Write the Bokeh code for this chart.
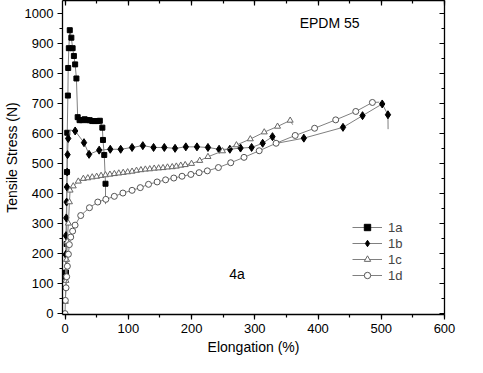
from bokeh.plotting import figure
from bokeh.models import (LinearAxis, Range1d, Legend, LegendItem, Label,
                          SingleIntervalTicker, CustomJSTickFormatter)
from bokeh.embed import file_html
from bokeh.resources import INLINE

# ---- data ----
a_x = [1.5, 2.5, 3, 3.5, 4.5, 5, 6, 7.5, 10, 12, 14, 16, 18, 20, 23, 27, 31, 35, 39, 43, 47, 51, 55, 59, 60, 62, 64, 64]
a_y = [137, 232, 472, 603, 727, 819, 885, 945, 920, 885, 859, 831, 784, 655, 645, 645, 648, 645, 645, 642, 642, 642, 643, 620, 579, 529, 433, 365]
a_m = [1] * 27 + [0]

b_x = [0.5, 1, 1.5, 2, 2.5, 3, 3.5, 4, 5, 8, 16, 30, 38, 54, 71.5, 88, 106, 123, 140, 157, 174, 191, 208.6, 226,
       243.6, 260.6, 277.5, 295, 312.5, 328, 335, 377.6, 439.5, 470.4, 501.5, 510.6, 510.8]
b_y = [120, 197, 260, 319, 372, 422, 472, 530, 584, 612, 609, 570, 531, 545, 548, 548, 554, 560, 554, 554, 551, 556, 556, 554,
       548, 548, 552, 554, 568, 590, 568, 585, 621, 660, 699, 663, 615]
b_m = [1] * 9 + [0] + [1] * 20 + [0] + [1] * 5 + [0]

c_x = [0.5, 1.5, 2.5, 3.5, 5.3, 7, 8, 13, 21, 29, 36, 43, 50, 57, 64, 71, 78, 85, 92, 99, 106, 113, 120, 127, 134,
       141, 148, 155, 162, 169.5, 176, 183, 190, 200, 213, 226, 249, 271, 293, 315, 336, 356, 360]
c_y = [40, 110, 180, 240, 301, 372, 411, 425, 441, 450, 452, 455, 457, 460, 462, 464, 466, 468, 470, 472, 474, 477, 479, 481, 482,
       484, 485, 486, 488, 489, 491, 494, 496, 500, 510, 523, 542, 562, 582, 605, 624, 644, 630]
c_m = [1] * 42 + [0]

d_x = [0, 0.5, 1.6, 2.6, 3.7, 5.3, 6.8, 9, 12, 15.9, 24.8, 38.6, 51.8, 64.5, 77.9, 91.5, 106, 119, 132, 145.6, 159, 172,
       185, 199, 212, 225, 242.5, 262, 283, 307, 333.7, 363.9, 394.6, 428, 459.7, 486, 497]
d_y = [0, 44, 86, 123, 158, 198, 230, 255, 275, 295, 327, 353, 372, 381, 391, 402, 411, 420, 431, 439, 446, 452,
       458, 464, 470, 476, 487, 503, 521, 543, 568, 594, 618, 646, 674, 704, 705]
d_m = [1] * 36 + [0]

labels = ["1a", "1b", "1c", "1d"]
FONT = "Liberation Sans"

p = figure(width=467, height=357, x_range=Range1d(-4, 600), y_range=Range1d(-3, 1044),
           output_backend="svg", toolbar_location=None,
           min_border_left=0, min_border_right=23, min_border_top=0, min_border_bottom=0,
           x_axis_label="Elongation (%)", y_axis_label="Tensile Stress (N)")
p.grid.visible = False
p.outline_line_color = None
p.background_fill_color = "white"
p.border_fill_color = "white"

for ax in p.xaxis + p.yaxis:
    ax.ticker = SingleIntervalTicker(interval=100, num_minor_ticks=2)
    ax.axis_line_width = 1.3
    ax.major_tick_line_width = 1.2
    ax.minor_tick_line_width = 1.2
    ax.major_tick_out = 5
    ax.major_tick_in = 0
    ax.minor_tick_out = 3
    ax.minor_tick_in = 0
    ax.major_label_text_font = FONT
    ax.major_label_text_font_size = "13px"
    ax.major_label_text_color = "black"
    ax.axis_label_text_font = FONT
    ax.axis_label_text_font_size = "14px"
    ax.axis_label_text_font_style = "normal"
    ax.axis_label_text_color = "black"
p.xaxis.major_label_standoff = 4
p.xaxis.axis_label_standoff = 3
p.yaxis.major_label_standoff = 4
p.yaxis.axis_label_standoff = 2

for loc in ("above", "right"):
    ax = LinearAxis(ticker=SingleIntervalTicker(interval=100, num_minor_ticks=2),
                    formatter=CustomJSTickFormatter(code="return ''"))
    ax.axis_line_width = 1.3
    ax.major_tick_line_width = 1.2
    ax.minor_tick_line_width = 1.2
    ax.major_tick_out = 0
    ax.major_tick_in = 5
    ax.minor_tick_out = 0
    ax.minor_tick_in = 3
    ax.major_label_standoff = 0
    ax.major_label_text_font_size = "1px"
    ax.axis_label_standoff = 0
    p.add_layout(ax, loc)

LINE = "#808080"
specs = [
    (a_x, a_y, a_m, dict(marker="square", size=5, fill_color="black", line_color="black")),
    (b_x, b_y, b_m, dict(marker="diamond", size=8, fill_color="black", line_color="black")),
    (c_x, c_y, c_m, dict(marker="triangle", size=6, fill_color="white", line_color="#666666")),
    (d_x, d_y, d_m, dict(marker="circle", size=6, fill_color="white", line_color="#555555")),
]
items = []
for (xs, ys, ms, mk), lab in zip(specs, labels):
    lr = p.line(xs, ys, line_color=LINE, line_width=1)
    mx = [x for x, m in zip(xs, ms) if m]
    my = [y for y, m in zip(ys, ms) if m]
    sr = p.scatter(mx, my, line_width=1, **mk)
    items.append(LegendItem(label=lab, renderers=[lr, sr]))

leg = Legend(items=items, location=(290, 31), padding=0, margin=0, spacing=0,
             label_height=16, glyph_height=16, glyph_width=30, label_standoff=6,
             label_text_font=FONT, label_text_font_size="13px",
             background_fill_alpha=0, border_line_color=None)
p.add_layout(leg)

p.add_layout(Label(x=371, y=970, text="EPDM 55", text_font=FONT, text_font_size="14px",
                   text_baseline="middle", text_color="black"))
p.add_layout(Label(x=272, y=133, text="4a", text_font=FONT, text_font_size="14px",
                   text_baseline="middle", text_align="center", text_color="black"))

open("out.html", "w").write(file_html(p, INLINE))
